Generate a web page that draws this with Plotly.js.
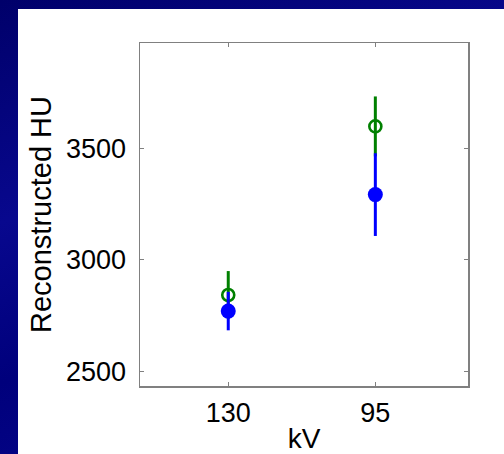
<!DOCTYPE html>
<html>
<head>
<meta charset="utf-8">
<script src="https://cdn.plot.ly/plotly-3.0.1.min.js"></script>
<style>
  html, body { margin: 0; padding: 0; width: 504px; height: 454px; overflow: hidden; }
  body {
    background: linear-gradient(160deg, #00006a 0%, #08088e 35%, #00007c 60%, #0a0a94 100%);
  }
  #chart { position: absolute; left: 18px; top: 9px; width: 486px; height: 445px; background: #fff; }
</style>
</head>
<body>
<div id="chart"></div>
<script>
// Tube voltage settings (categories) and reconstructed HU with error bars
const kV = ["130", "95"];
const greenHU = [2843, 3597];
const greenErr = [107, 134];
const blueHU = [2771, 3292];
const blueErr = [86, 185];
const yTicks = [2500, 3000, 3500];

const green = {
  x: kV, y: greenHU, type: "scatter", mode: "markers",
  marker: { symbol: "circle-open", size: 12, color: "#008000", line: { width: 2.6, color: "#008000" } },
  error_y: { type: "data", array: greenErr, visible: true, color: "#008000", thickness: 3, width: 0 },
  showlegend: false
};
const blue = {
  x: kV, y: blueHU, type: "scatter", mode: "markers",
  marker: { symbol: "circle", size: 15, color: "#0000ff" },
  error_y: { type: "data", array: blueErr, visible: true, color: "#0000ff", thickness: 3, width: 0 },
  showlegend: false
};

const font = { family: "Liberation Sans, Arial, sans-serif", color: "#000" };

const layout = {
  width: 486, height: 445,
  margin: { l: 122, r: 36, t: 34, b: 67.5, pad: 0 },
  paper_bgcolor: "#fff", plot_bgcolor: "#fff",
  font: font,
  xaxis: {
    type: "category", range: [-0.6, 1.63],
    showgrid: false, zeroline: false,
    showline: true, linecolor: "#808080", linewidth: 1.5, mirror: "allticks",
    ticks: "inside", ticklen: 4, tickcolor: "#808080", tickwidth: 1,
    tickfont: { size: 27, family: font.family, color: "#000" },
    ticklabelstandoff: 2,
    title: { text: "kV", font: { size: 28, family: font.family, color: "#000" }, standoff: 2 }
  },
  yaxis: {
    range: [2436, 3970], tickvals: yTicks, ticktext: yTicks.map(String),
    showgrid: false, zeroline: false,
    showline: true, linecolor: "#808080", linewidth: 1.5, mirror: "allticks",
    ticks: "inside", ticklen: 4, tickcolor: "#808080", tickwidth: 1,
    tickfont: { size: 27, family: font.family, color: "#000" },
    ticklabelstandoff: 7,
    title: { text: "Reconstructed HU", font: { size: 29, family: font.family, color: "#000" }, standoff: 6 }
  }
};

Plotly.newPlot("chart", [green, blue], layout, { displayModeBar: false, staticPlot: true });
</script>
</body>
</html>
